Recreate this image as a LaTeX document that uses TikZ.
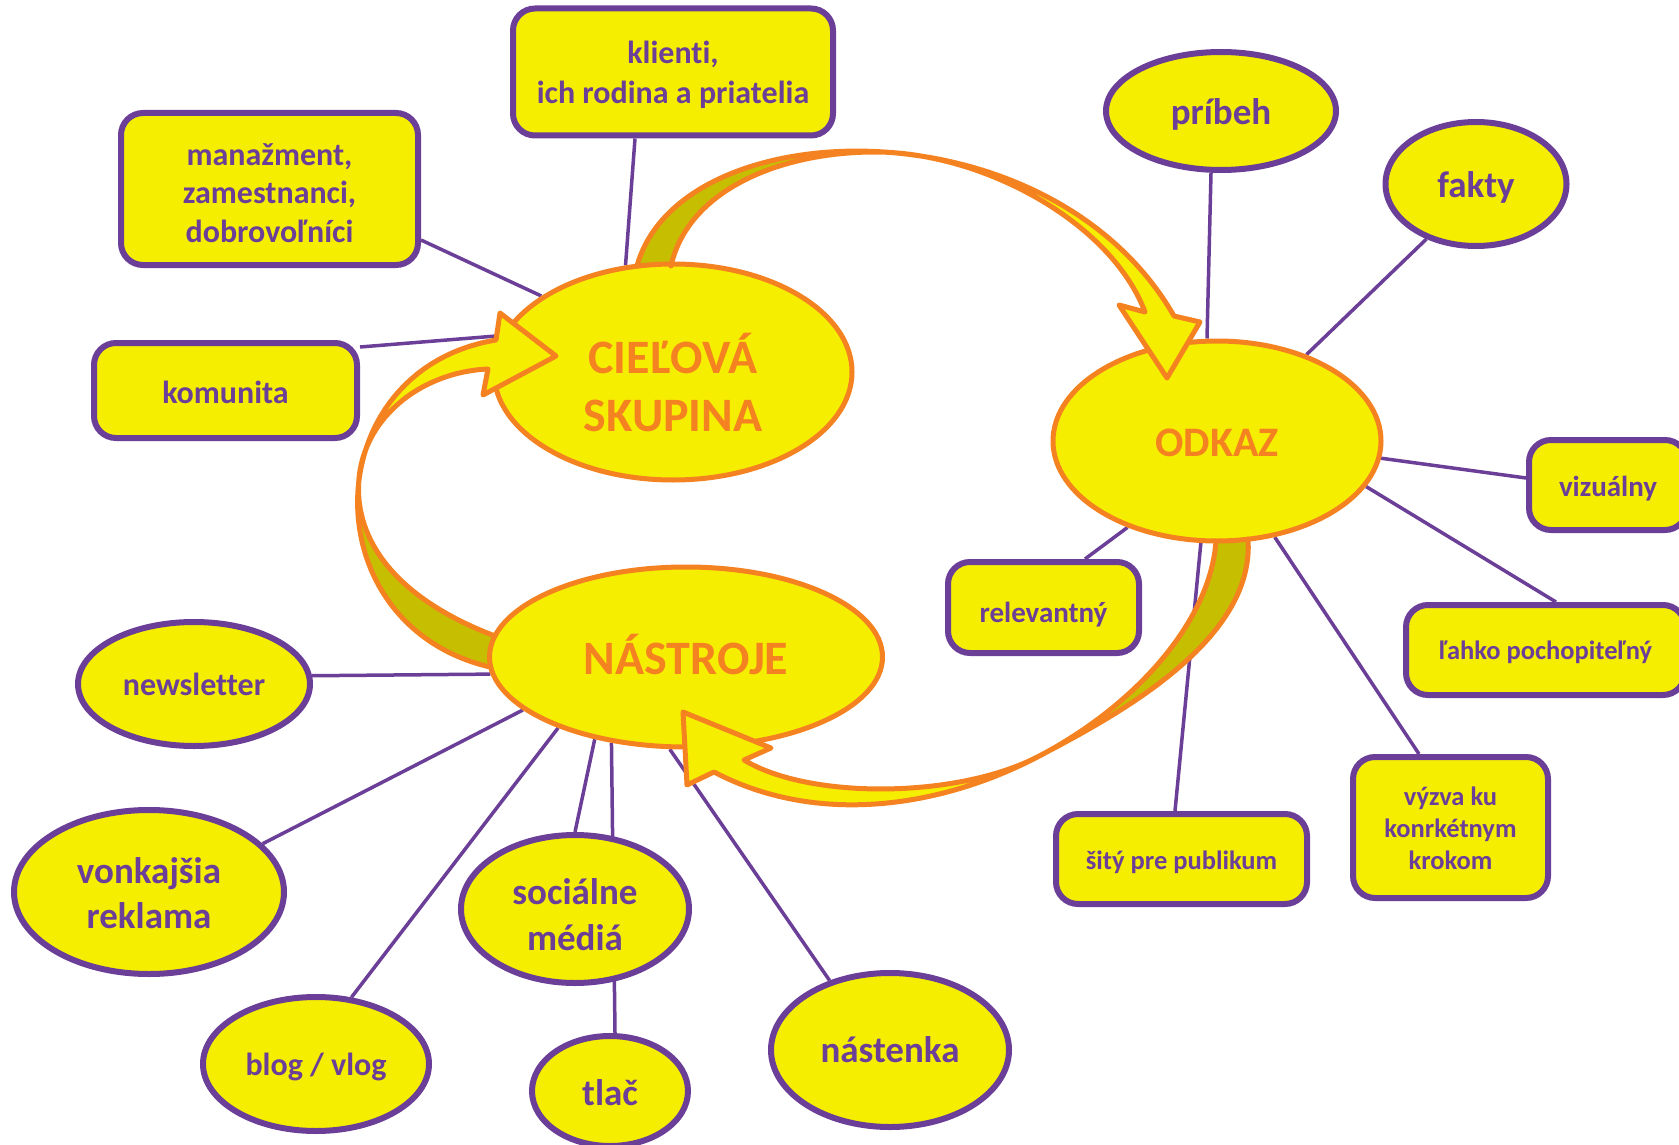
\documentclass[tikz,border=0pt]{standalone}
\usepackage{fontspec}
\setmainfont{Carlito}[Ligatures=NoCommon]
\usetikzlibrary{shapes.geometric}
\definecolor{yel}{RGB}{245,238,0}
\definecolor{orng}{RGB}{245,130,32}
\definecolor{purp}{RGB}{107,63,152}
\definecolor{oliv}{RGB}{198,190,0}
\pgfdeclarelayer{connlayer}
\pgfdeclarelayer{bandlayer}
\pgfdeclarelayer{toplayer}
\pgfsetlayers{connlayer,bandlayer,main,toplayer}
\newcommand\myfs[2]{\fontsize{#1}{#2}\selectfont\bfseries}
\begin{document}
\begin{tikzpicture}[x=1pt,y=-1pt,
  mainell/.style={ellipse, draw=orng, line width=5pt, fill=yel, inner sep=0pt},
  pell/.style={ellipse, draw=purp, line width=6pt, fill=yel, inner sep=0pt},
  pbox/.style={rectangle, rounded corners=22pt, draw=purp, line width=6pt, fill=yel, inner sep=0pt},
  otxt/.style={inner sep=0pt, text=orng, align=center},
  ptxt/.style={inner sep=0pt, text=purp, align=center},
  conn/.style={draw=purp, line width=3.5pt},
  arrowedge/.style={draw=orng, line width=5pt, line join=round, line cap=round}]
\useasboundingbox (0,0) rectangle (1679,1145);

% main ellipses
\node[mainell, minimum width=358, minimum height=216] (cel) at (673,372) {};
\node[mainell, minimum width=328, minimum height=200] (odk) at (1217,441) {};
\node[mainell, minimum width=393, minimum height=180] (nas) at (686,657) {};
\node[otxt, font=\myfs{48}{58}] (celt) at ([yshift=-11]cel.center) {CIEĽOVÁ\\SKUPINA};
\node[otxt, font=\myfs{42}{50}] (odkt) at ([yshift=-2]odk.center) {ODKAZ};
\node[otxt, font=\myfs{48}{58}] (nast2) at ([yshift=2]nas.center) {NÁSTROJE};

% purple ellipses
\node[pell, minimum width=230, minimum height=118] (pribeh) at (1221,111) {};
\node[pell, minimum width=181, minimum height=124] (fakty) at (1476,184) {};
\node[pell, minimum width=232, minimum height=124] (newsl) at (194,684) {};
\node[pell, minimum width=270, minimum height=164] (vonk) at (149,892) {};
\node[pell, minimum width=228, minimum height=148] (soc) at (575,909) {};
\node[pell, minimum width=226, minimum height=134] (blog) at (316,1064) {};
\node[pell, minimum width=156, minimum height=110] (tlac) at (610,1091) {};
\node[pell, minimum width=238, minimum height=154] (nast) at (890,1050) {};
\node[ptxt, font=\myfs{37}{45}] at ([yshift=-3]pribeh.center) {príbeh};
\node[ptxt, font=\myfs{37}{45}] at ([yshift=-3]fakty.center) {fakty};
\node[ptxt, font=\myfs{32}{39}] at (newsl.center) {newsletter};
\node[ptxt, font=\myfs{37}{45}] at ([yshift=-1]vonk.center) {vonkajšia\\reklama};
\node[ptxt, font=\myfs{37}{46}] at ([yshift=-6]soc.center) {sociálne\\médiá};
\node[ptxt, font=\myfs{32}{39}] at ([yshift=-3]blog.center) {blog / vlog};
\node[ptxt, font=\myfs{37}{45}] at ([yshift=-2]tlac.center) {tlač};
\node[ptxt, font=\myfs{37}{45}] at (nast.center) {nástenka};

% boxes
\node[pbox, minimum width=320, minimum height=127] (klienti) at (673,72) {};
\node[pbox, minimum width=297, minimum height=152] (manaz) at (269.5,189) {};
\node[pbox, minimum width=263, minimum height=95] (komun) at (225.5,390.5) {};
\node[pbox, minimum width=191, minimum height=91] (relev) at (1043.5,607.5) {};
\node[pbox, minimum width=158, minimum height=90] (vizual) at (1608,485) {};
\node[pbox, minimum width=279, minimum height=90] (lahko) at (1545.5,650) {};
\node[pbox, minimum width=251, minimum height=90] (sity) at (1181.5,859) {};
\node[pbox, minimum width=195, minimum height=141] (vyzva) at (1450.5,827.5) {};
\node[ptxt, font=\myfs{32}{40}] at ([yshift=-3]klienti.center) {klienti,\\ich rodina a priatelia};
\node[ptxt, font=\myfs{32}{38.5}] at ([yshift=-4]manaz.center) {manažment,\\zamestnanci,\\dobrovoľníci};
\node[ptxt, font=\myfs{32}{39}] at ([yshift=-2]komun.center) {komunita};
\node[ptxt, font=\myfs{29}{35}] at ([yshift=-7]relev.center) {relevantný};
\node[ptxt, font=\myfs{29}{35}] at ([yshift=-4]vizual.center) {vizuálny};
\node[ptxt, font=\myfs{26.5}{32}] at ([yshift=-2]lahko.center) {ľahko pochopiteľný};
\node[ptxt, font=\myfs{26.5}{32}] at ([yshift=-3]sity.center) {šitý pre publikum};
\node[ptxt, font=\myfs{26.5}{32}] at ([yshift=-1]vyzva.center) {výzva ku\\konrkétnym\\krokom};

\begin{pgfonlayer}{connlayer}
\draw[conn] ([xshift=-38]klienti.south) -- (cel.114.4);
\draw[conn] ([yshift=-51]manaz.east) -- (cel.150.6);
\draw[conn] ([yshift=43.5]komun.east) -- (cel.168.8);
\draw[conn] ([xshift=-10]pribeh.south) -- ([xshift=-10]odk.north);
\draw[conn] (fakty.228.8) -- (odk.44.7);
\draw[conn] ([yshift=7]vizual.west) -- (odk.-6.2);
\draw[conn] ([xshift=10.5]lahko.north) -- (odk.-17.2);
\draw[conn] ([xshift=-31.5]vyzva.north) -- (odk.-59.6);
\draw[conn] ([xshift=-6.5]sity.north) -- (odk.-99);
\draw[conn] ([xshift=41.5]relev.north) -- (odk.224.3);
\draw[conn] (newsl.4) -- (nas.185);
\draw[conn] (vonk.23.6) -- (nas.198.4);
\draw[conn] (blog.62.7) -- (nas.209.4);
\draw[conn] (soc.north) -- (nas.222);
\draw[conn] ([xshift=5]tlac.north) -- (nas.229.8);
\draw[conn] (nast.131.8) -- (nas.260);
\end{pgfonlayer}

% back (dark) parts of the curved arrows
\begin{pgfonlayer}{bandlayer}
\begin{scope}
\clip (0,0) rectangle (875,1145);
\fill[oliv] (634,280) -- (637,266) .. controls (680,110) and (1050,100) .. (1174,316) -- (1200,322) -- (1167,378) -- (1119,305) -- (1145,312) .. controls (1110,220) and (980,152) .. (875,152) .. controls (780,152) and (688,190) .. (671,266) -- (670,280) -- cycle;
\end{scope}
\begin{scope}
\clip (0,488) rectangle (1679,1145);
\fill[oliv] (500,672) -- (490,667) .. controls (310,625) and (315,370) .. (496,340) -- (500,313) -- (556,356) -- (483,395) -- (488,369) .. controls (420,372) and (359,420) .. (358.5,488) .. controls (358,545) and (400,600) .. (495,636) -- (503,641) -- cycle;
\end{scope}
\begin{scope}
\clip (1038,0) rectangle (1679,1145);
\fill[oliv] (1217,528) -- (1216,541) .. controls (1205,700) and (920,880) .. (714,772) -- (687,785) -- (683,712) -- (771,748) -- (744,760) .. controls (810,800) and (958.3,798.3) .. (1038,756.6) .. controls (1120,713.8) and (1255,640) .. (1248,539) -- (1249,528) -- cycle;
\end{scope}
\end{pgfonlayer}

% front parts and outlines of the curved arrows
\begin{pgfonlayer}{toplayer}
% arrow 1: CIEĽOVÁ SKUPINA -> ODKAZ
\begin{scope}
\clip (875,0) rectangle (1679,1145);
\fill[yel] (634,280) -- (637,266) .. controls (680,110) and (1050,100) .. (1174,316) -- (1200,322) -- (1167,378) -- (1119,305) -- (1145,312) .. controls (1110,220) and (980,152) .. (875,152) .. controls (780,152) and (688,190) .. (671,266) -- (670,280) -- cycle;
\end{scope}
\draw[arrowedge] (637,266) .. controls (680,110) and (1050,100) .. (1174,316) -- (1200,322) -- (1167,378) -- (1119,305) -- (1145,312) .. controls (1110,220) and (980,152) .. (875,152) .. controls (780,152) and (688,190) .. (671,266);
% arrow 2: NÁSTROJE -> CIEĽOVÁ SKUPINA
\begin{scope}
\clip (0,0) rectangle (1679,488);
\fill[yel] (500,672) -- (490,667) .. controls (310,625) and (315,370) .. (496,340) -- (500,313) -- (556,356) -- (483,395) -- (488,369) .. controls (420,372) and (359,420) .. (358.5,488) .. controls (358,545) and (400,600) .. (495,636) -- (503,641) -- cycle;
\end{scope}
\draw[arrowedge] (490,667) .. controls (310,625) and (315,370) .. (496,340) -- (500,313) -- (556,356) -- (483,395) -- (488,369) .. controls (420,372) and (359,420) .. (358.5,488) .. controls (358,545) and (400,600) .. (495,636);
% arrow 3: ODKAZ -> NÁSTROJE
\begin{scope}
\clip (0,0) rectangle (1038,1145);
\fill[yel] (1217,528) -- (1216,541) .. controls (1205,700) and (920,880) .. (714,772) -- (687,785) -- (683,712) -- (771,748) -- (744,760) .. controls (810,800) and (958.3,798.3) .. (1038,756.6) .. controls (1120,713.8) and (1255,640) .. (1248,539) -- (1249,528) -- cycle;
\end{scope}
\draw[arrowedge] (1216,541) .. controls (1205,700) and (920,880) .. (714,772) -- (687,785) -- (683,712) -- (771,748) -- (744,760) .. controls (810,800) and (958.3,798.3) .. (1038,756.6) .. controls (1120,713.8) and (1255,640) .. (1248,539);
\end{pgfonlayer}
\end{tikzpicture}
\end{document}
